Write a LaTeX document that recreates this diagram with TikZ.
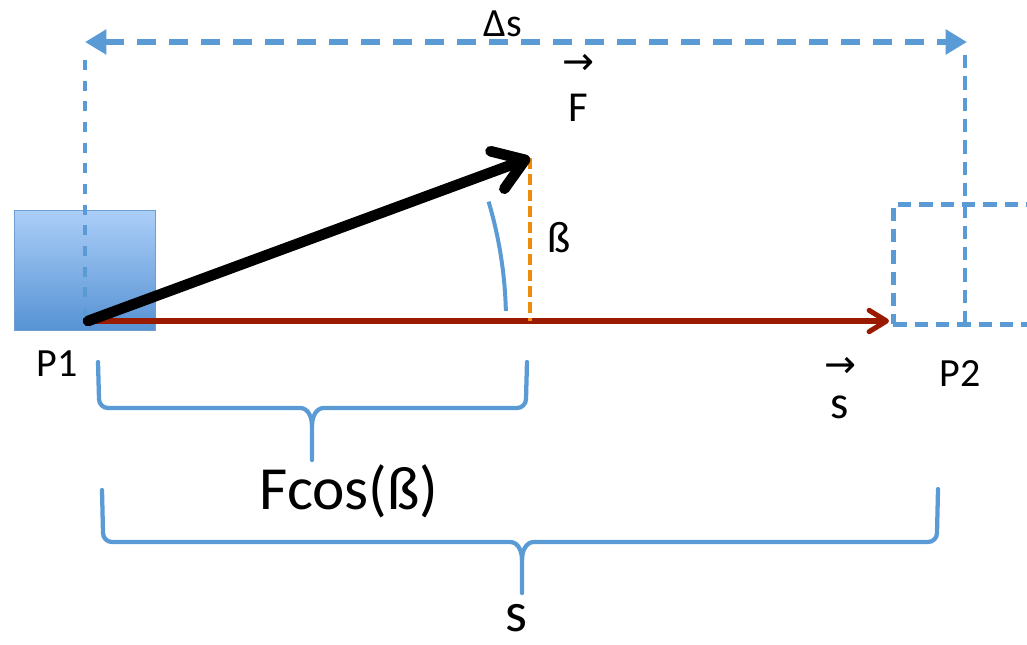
\documentclass[tikz,border=0pt]{standalone}
\usepackage{fontspec}
\usepackage{graphicx}
\setmainfont{Carlito}
\newfontfamily\arrowfont{DejaVu Sans}
\usetikzlibrary{arrows.meta}
\definecolor{obl}{HTML}{5B9BD5}
\definecolor{boxtop}{HTML}{ABCEF8}
\definecolor{boxbot}{HTML}{5692D3}
\definecolor{boxedge}{HTML}{6E9FD3}
\definecolor{dred}{HTML}{9A1A00}
\definecolor{oran}{HTML}{EF8A0C}
\newcommand{\vecarr}{\resizebox{24pt}{!}{\arrowfont →}}
\tikzset{
  lbl/.style={inner sep=0pt, font=\fontsize{#1}{#1}\selectfont},
  vecarrow/.style={inner sep=0pt},
  bluedash/.style={draw=obl, line width=3.6pt, dash pattern=on 10pt off 6pt},
  thindash/.style={draw=obl, line width=3pt, dash pattern=on 7.5pt off 8pt},
  bracestyle/.style={draw=obl, line width=3.2pt, line join=round, line cap=round},
}
\begin{document}
\begin{tikzpicture}[x=0.75pt,y=-0.75pt]
\useasboundingbox (0,0) rectangle (1027,644);
\clip (0,0) rectangle (1027,644);
% key points
\coordinate (O) at (88,321);
\coordinate (Ftip) at (530,158);
\coordinate (Stip) at (889,321);
\coordinate (Foot) at (530,321);
\coordinate (TL) at (85,42);
\coordinate (TR) at (967,42);
\coordinate (LV) at (85,60);
\coordinate (LVb) at (85,322);
\coordinate (RV) at (965,55);
\coordinate (RVb) at (965,322);
% block P1
\node[draw=boxedge, line width=1pt, top color=boxtop, bottom color=boxbot,
      minimum width=105.75pt, minimum height=90pt, inner sep=0pt, anchor=north west]
      (B1) at (14,210) {};
% block P2 (dashed)
\node[bluedash, minimum width=105.75pt, minimum height=90pt, inner sep=0pt, anchor=north west]
      (B2) at (891,202) {};
% dashed verticals
\draw[thindash] (LV) -- (LVb);
\draw[bluedash] (RV) -- (RVb);
% top dimension arrow
\draw[draw=obl, line width=5.2pt, dash pattern=on 14pt off 10pt,
      {Triangle[length=16pt,width=18pt]}-{Triangle[length=16pt,width=18pt]}] (TL) -- (TR);
\node[lbl=30] (ds) at (503,24) {Δs};
% displacement arrow
\draw[dred, line width=3.8pt, -{Straight Barb[length=13pt,width=16pt,round]}] (O) -- (Stip);
% orange projection
\draw[oran, line width=3.6pt, dash pattern=on 8pt off 4pt] (Ftip) -- (Foot);
% angle arc
\draw[obl, line width=3pt] ([shift={(-1.4:418)}]O) arc[start angle=-1.4, end angle=-16.6, radius=418];
% force arrow
\draw[black, line width=8pt, line cap=round, -{Straight Barb[length=22pt,width=30pt,round]}] (O) -- (Ftip);
% labels
\node[vecarrow] (Farr) at (578,64) {\vecarr};
\node[lbl=32] (F) at (578,108) {F};
\node[lbl=33] (beta) at (559,238) {ß};
\node[lbl=30] (P1) at (57,364) {P1};
\node[lbl=30] (P2) at (960,374) {P2};
\node[vecarrow] (sarr) at (840,367) {\vecarr};
\node[lbl=35] (sv) at (840,407) {s};
% brace 1
\draw[bracestyle] (98,362) -- (99,399) to[out=-90,in=180] (108,408) -- (300,408)
      to[out=0,in=90] (312,426) -- (312,460);
\draw[bracestyle] (527,362) -- (526,399) to[out=-90,in=0] (517,408) -- (324,408)
      to[out=180,in=90] (312,426);
\node[lbl=46] (fcos) at (349,491) {Fcos(ß)};
% brace 2
\draw[bracestyle] (102,490) -- (103,533) to[out=-90,in=180] (112,542) -- (510,542)
      to[out=0,in=90] (522,560) -- (522,593);
\draw[bracestyle] (938,489) -- (937,533) to[out=-90,in=0] (928,542) -- (534,542)
      to[out=180,in=90] (522,560);
\node[lbl=42] (s) at (516,618) {s};
\end{tikzpicture}
\end{document}
